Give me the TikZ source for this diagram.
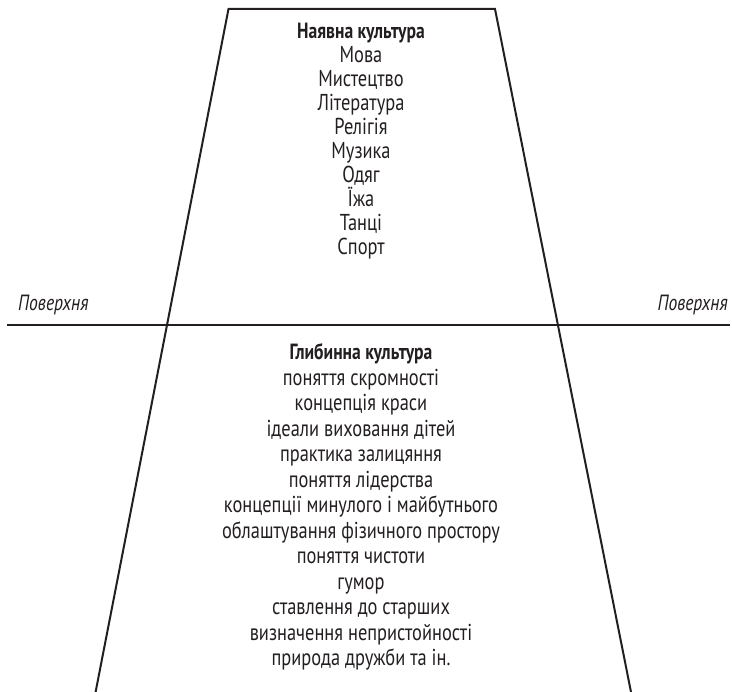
\documentclass[tikz,border=0pt]{standalone}
\usepackage{fontspec}
\setmainfont{PT Sans}[FakeStretch=0.8]
\definecolor{ink}{HTML}{231F20}
\begin{document}
\begin{tikzpicture}[x=1pt,y=-1pt,
  item/.style={anchor=base,inner sep=0pt,text=ink,font=\fontsize{23}{23}\selectfont},
  head/.style={anchor=base,inner sep=0pt,text=ink,font=\bfseries\fontsize{22}{22}\selectfont},
  level/.style={inner sep=0pt,text=ink,font=\itshape\fontsize{22}{22}\selectfont},
  edge/.style={line width=2pt,draw=ink,line join=miter}]
\useasboundingbox (0,0) rectangle (732,692);

% iceberg outline
\coordinate (bl) at (95.6,692);
\coordinate (tl) at (228.5,9);
\coordinate (tr) at (495,9);
\coordinate (br) at (631,692);
\draw[edge] (bl) -- (tl) -- (tr) -- (br);

% water line
\coordinate (wl) at (7,325);
\coordinate (wr) at (730,325);
\draw[edge] (wl) -- (wr);

\node[level,anchor=base west] (sl) at (18,311) {Поверхня};
\node[level,anchor=base east] (sr) at (728,311) {Поверхня};

% visible culture
\node[head] (u0) at (361,39) {Наявна культура};
\foreach \t [count=\i] in {Мова,Мистецтво,Література,Релігія,Музика,Одяг,Їжа,Танці,Спорт}
  \node[item] (u\i) at (361,39+\i*23.9) {\t};

% deep culture
\node[head] (d0) at (361,360) {Глибинна культура};
\foreach \t [count=\i] in {поняття скромності,концепція краси,ідеали виховання дітей,практика залицяння,поняття лідерства,концепції минулого і майбутнього,облаштування фізичного простору,поняття чистоти,гумор,ставлення до старших,визначення непристойності,природа дружби та ін.}
  \node[item] (d\i) at (361,360+\i*25.5) {\t};
\end{tikzpicture}
\end{document}
